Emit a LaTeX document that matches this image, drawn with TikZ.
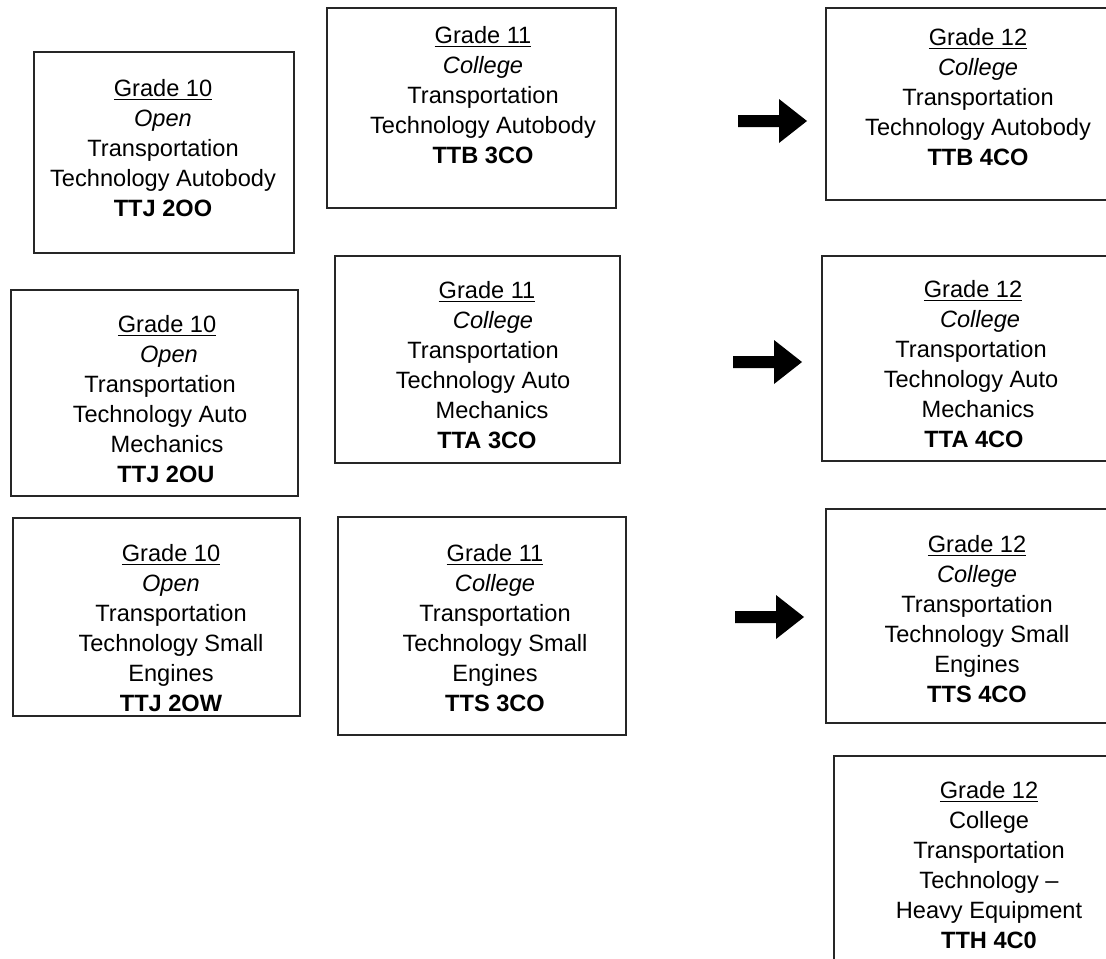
\documentclass[tikz,border=0pt]{standalone}
\usepackage{fontspec}
\setmainfont{Liberation Sans}
% leading space that nudges a centred line to the right
\newcommand\shiftln[1]{\hspace*{#1pt}}
\begin{document}
\begin{tikzpicture}[x=0.5pt,y=-0.5pt,
  box/.style={draw=black!85, line width=0.55pt, inner sep=0pt},
  course/.style={align=center, inner sep=0pt, font=\fontsize{11.8}{15}\selectfont},
  blockarrow/.pic={\fill[black] (0,-6) -- (41,-6) -- (41,-22) -- (69,0) -- (41,22) -- (41,6) -- (0,6) -- cycle;}]
\useasboundingbox (0,0) rectangle (1106,958);
\clip (0,0) rectangle (1106,958);

% Grade 10 column
\node[box, minimum width=130pt, minimum height=100.5pt] (a1) at (164,152.5) {};
\node[course] (a1t) at (163,148) {\underline{Grade 10}\\\textit{Open}\\Transportation\\Technology Autobody\\\textbf{TTJ 2OO}};

\node[box, minimum width=143.5pt, minimum height=103pt] (a2) at (154.5,393) {};
\node[course] (a2t) at (160,399) {\shiftln{7}\underline{Grade 10}\\\shiftln{9}\textit{Open}\\Transportation\\Technology Auto\\\shiftln{7}Mechanics\\\shiftln{6}\textbf{TTJ 2OU}};

\node[box, minimum width=143.5pt, minimum height=99pt] (a3) at (156.5,617) {};
\node[course] (a3t) at (171,628) {\underline{Grade 10}\\\textit{Open}\\Transportation\\Technology Small\\Engines\\\textbf{TTJ 2OW}};

% Grade 11 column
\node[box, minimum width=144.5pt, minimum height=100pt] (b1) at (471.5,108) {};
\node[course] (b1t) at (483,95) {\underline{Grade 11}\\\textit{College}\\Transportation\\Technology Autobody\\\textbf{TTB 3CO}};

\node[box, minimum width=142.5pt, minimum height=103.5pt] (b2) at (477.5,359.5) {};
\node[course] (b2t) at (483,365) {\shiftln{4}\underline{Grade 11}\\\shiftln{10}\textit{College}\\Transportation\\Technology Auto\\\shiftln{9}Mechanics\\\shiftln{4}\textbf{TTA 3CO}};

\node[box, minimum width=144pt, minimum height=109pt] (b3) at (482,626) {};
\node[course] (b3t) at (495,628) {\underline{Grade 11}\\\textit{College}\\Transportation\\Technology Small\\Engines\\\textbf{TTS 3CO}};

% Grade 12 column (runs past the right edge)
\node[box, minimum width=144.5pt, minimum height=96pt] (c1) at (970.5,104) {};
\node[course] (c1t) at (978,97) {\underline{Grade 12}\\\textit{College}\\Transportation\\Technology Autobody\\\textbf{TTB 4CO}};

\node[box, minimum width=146.5pt, minimum height=102.5pt] (c2) at (968.5,358.5) {};
\node[course] (c2t) at (971,364) {\shiftln{2}\underline{Grade 12}\\\shiftln{9}\textit{College}\\Transportation\\Technology Auto\\\shiftln{7}Mechanics\\\shiftln{3}\textbf{TTA 4CO}};

\node[box, minimum width=144.5pt, minimum height=107pt] (c3) at (970.5,616) {};
\node[course] (c3t) at (977,619) {\underline{Grade 12}\\\textit{College}\\Transportation\\Technology Small\\Engines\\\textbf{TTS 4CO}};

\node[box, minimum width=140.5pt, minimum height=107pt] (c4) at (974.5,863) {};
\node[course] (c4t) at (989,865) {\underline{Grade 12}\\College\\Transportation\\Technology --\\Heavy Equipment\\\textbf{TTH 4C0}};

% progression arrows
\coordinate (arr1) at (738,121);
\coordinate (arr2) at (733,362);
\coordinate (arr3) at (735,617);
\pic at (arr1) {blockarrow};
\pic at (arr2) {blockarrow};
\pic at (arr3) {blockarrow};
\end{tikzpicture}
\end{document}
